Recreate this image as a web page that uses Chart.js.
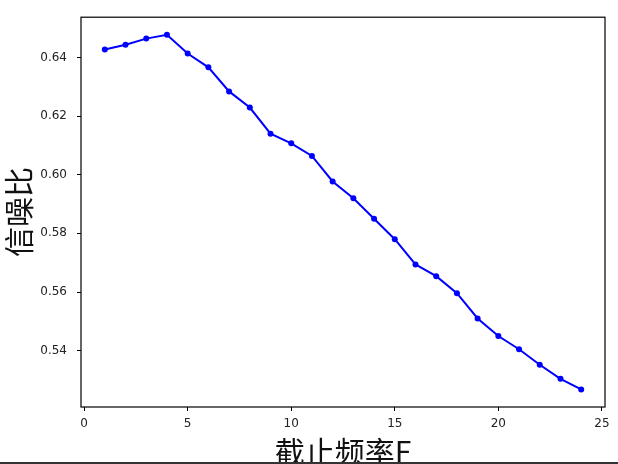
<!DOCTYPE html>
<html>
<head>
<meta charset="UTF-8">
<title>信噪比</title>
<script src="https://cdn.jsdelivr.net/npm/chart.js"></script>
<style>
  body { margin: 0; background: #fff; }
  #wrap { width: 618px; height: 464px; }
</style>
</head>
<body>
<div id="wrap"><canvas id="snrChart" width="618" height="464"></canvas></div>
<script>
// cutoff frequency F
const freqs = [1, 2, 3, 4, 5, 6, 7, 8, 9, 10, 11, 12, 13, 14, 15, 16, 17, 18, 19, 20, 21, 22, 23, 24];
// signal-to-noise ratio
const snr = [0.6427, 0.6443, 0.6464, 0.6477, 0.6413, 0.6366, 0.6284, 0.6229, 0.6140, 0.6107, 0.6064, 0.5977,
             0.5920, 0.5850, 0.5780, 0.5694, 0.5654, 0.5596, 0.5510, 0.5450, 0.5405, 0.5352, 0.5304, 0.5268];
const xTicks = [0, 5, 10, 15, 20, 25];
const yTicks = [0.54, 0.56, 0.58, 0.60, 0.62, 0.64];

const tickFont = { family: 'DejaVu Sans', size: 12 };
const cjk = "'Noto Sans CJK SC', 'Noto Sans CJK JP', sans-serif";

// frame around the plot + the dark line at the bottom of the picture
const framePlugin = {
    id: 'frame',
    afterDraw: (chart) => {
        const a = chart.chartArea;
        const ctx = chart.ctx;
        ctx.save();
        ctx.strokeStyle = '#000';
        ctx.lineWidth = 1.2;
        ctx.strokeRect(a.left, a.top, a.right - a.left, a.bottom - a.top);
        ctx.fillStyle = '#333';
        ctx.fillRect(0, 462, chart.width, 2);
        ctx.restore();
    }
};

new Chart(document.getElementById('snrChart'), {
    type: 'line',
    data: {
        datasets: [{
            data: freqs.map((f, i) => ({ x: f, y: snr[i] })),
            borderColor: '#0000ff',
            backgroundColor: '#0000ff',
            borderWidth: 2,
            pointRadius: 3,
            pointBorderWidth: 0,
            pointBackgroundColor: '#0000ff',
            tension: 0
        }]
    },
    options: {
        responsive: false,
        animation: false,
        layout: { padding: { top: 17, right: 13, left: 0, bottom: 0 } },
        plugins: { legend: { display: false }, tooltip: { enabled: false } },
        scales: {
            x: {
                type: 'linear',
                min: -0.15,
                max: 25.15,
                afterBuildTicks: (s) => { s.ticks = xTicks.map(v => ({ value: v })); },
                afterFit: (s) => { s.height = 57; },
                border: { display: false },
                grid: { drawOnChartArea: false, drawTicks: true, tickLength: 4, color: '#000' },
                ticks: { color: '#222', font: tickFont, padding: 6, maxRotation: 0,
                         callback: (v) => String(v) },
                title: { display: true, text: '截止频率F', color: '#111',
                         font: { family: cjk, size: 30, lineHeight: 0.8 }, padding: 0 }
            },
            y: {
                min: 0.5208,
                max: 0.6537,
                afterBuildTicks: (s) => { s.ticks = yTicks.map(v => ({ value: v })); },
                afterFit: (s) => { s.width = 81; },
                border: { display: false },
                grid: { drawOnChartArea: false, drawTicks: true, tickLength: 4, color: '#000' },
                ticks: { color: '#222', font: tickFont, padding: 10,
                         callback: (v) => v.toFixed(2) },
                title: { display: true, text: '信噪比', color: '#111',
                         font: { family: cjk, size: 30 }, padding: { top: 1, bottom: 0 } }
            }
        }
    },
    plugins: [framePlugin]
});
</script>
</body>
</html>
